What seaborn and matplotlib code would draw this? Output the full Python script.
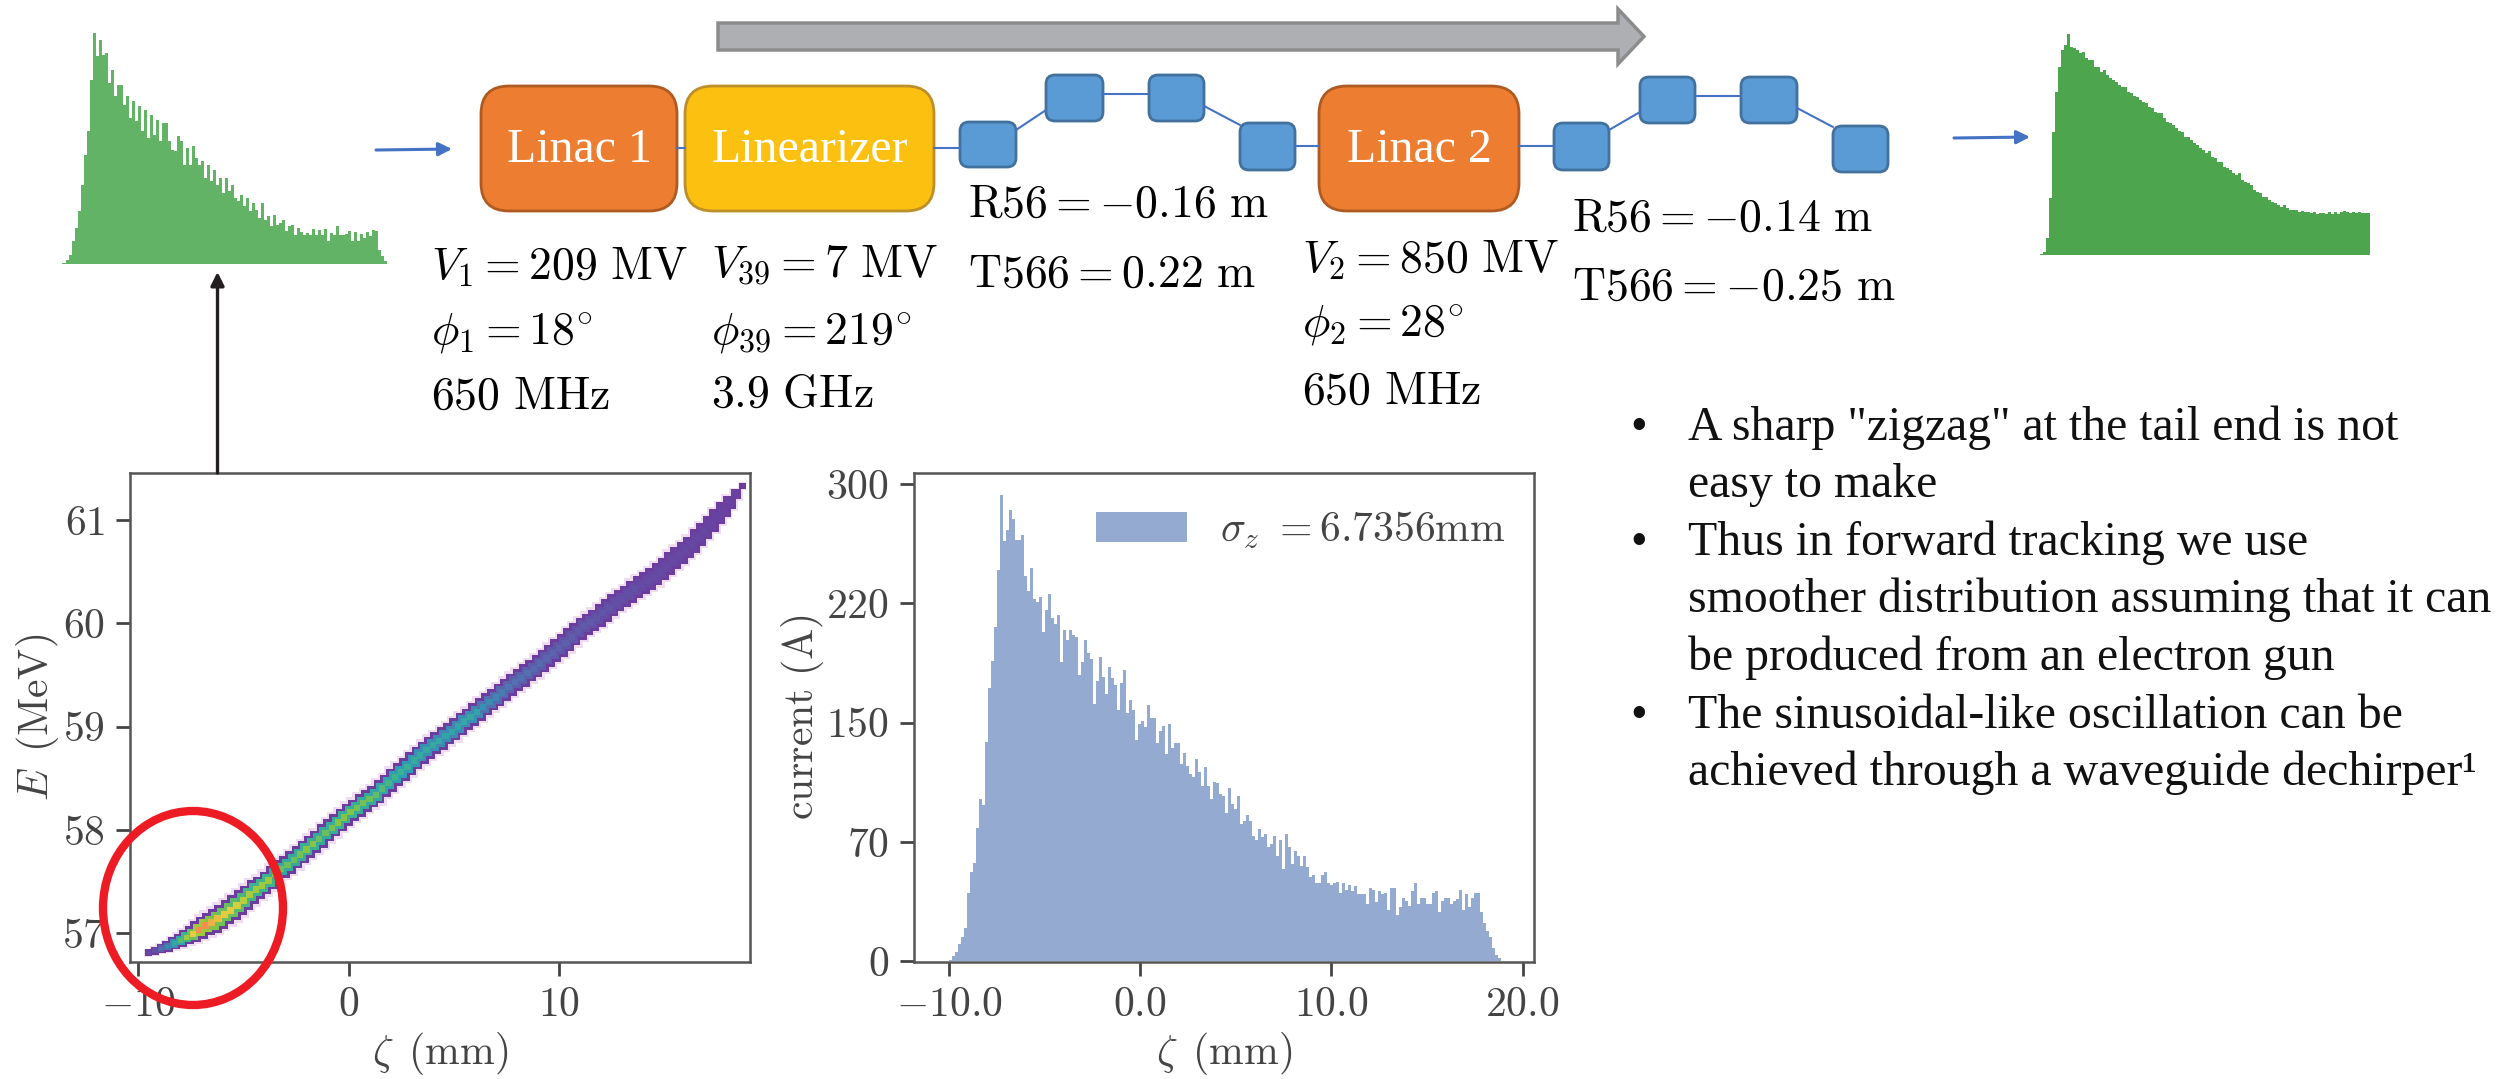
import numpy as np
import pandas as pd
import seaborn as sns
import matplotlib
matplotlib.use('Agg')
import matplotlib.pyplot as plt
import matplotlib.patches as mpatches
from matplotlib.colors import LinearSegmentedColormap

# current profile, one value per bin
current = [1,3,6,11,15,21,43,56,62,84,102,98,138,172,189,210,246,293,264,271,284,278,265,265,268,242,233,247,
           228,226,229,207,221,231,216,212,218,188,208,202,208,205,204,180,188,202,194,190,162,176,191,179,168,
           185,178,174,158,175,183,156,164,158,139,149,151,147,161,
           153,153,137,145,148,130,149,134,137,137,124,131,123,118,116,127,119,110,122,110,102,113,112,105,104,
           93,109,99,96,104,86,88,92,88,79,76,83,78,80,72,74,79,66,76,58,80,72,61,69,66,60,66,59,53,54,49,49,54,
           56,49,48,49,50,43,49,45,
           48,44,47,42,42,42,36,46,45,37,44,42,43,32,46,46,29,34,40,38,35,44,49,36,40,40,36,36,43,44,31,38,40,40,
           36,38,39,45,32,42,34,40,43,43,31,24,19,15,8,4,2,0]
zeta_start = -10.0
zeta_bin = 0.157

# beam ridge
ridge_zeta = [-9.5,-9.2,-8.9,-8.6,-8.3,-8.0,-7.7,-7.4,-7.1,-6.8,-6.5,-6.2,-5.9,-5.6,-5.3,-5.0,-4.7,-4.4,-4.1,-3.8,
              -3.5,-3.2,-2.9,-2.6,-2.3,-2.0,-1.7,-1.4,-1.1,-0.8,-0.5,-0.2,0.1,0.4,0.7,1.0,1.3,1.6,1.9,2.2,2.5,2.8,
              3.1,3.4,3.7,4.0,4.3,4.6,4.9,5.2,5.5,5.8,6.1,6.4,6.7,7.0,7.3,7.6,7.9,8.2,8.5,8.8,9.1,9.4,9.7,10.0,
              10.3,10.6,10.9,11.2,11.5,11.8,12.1,12.4,12.7,13.0,13.3,13.6,13.9,14.2,14.5,14.8,15.1,15.4,15.7,16.0,
              16.3,16.6,16.9,17.2,17.5,17.8,18.1,18.4,18.7]
ridge_energy = [56.81,56.83,56.85,56.87,56.90,56.93,56.96,56.99,57.03,57.07,57.10,57.14,57.18,57.22,57.27,57.32,
                57.37,57.42,57.46,57.51,57.57,57.62,57.66,57.71,57.76,57.81,57.86,57.91,57.97,58.02,58.07,58.12,
                58.17,58.21,58.26,58.30,58.34,58.40,58.45,58.51,58.56,58.61,58.67,58.72,58.77,58.82,58.86,58.91,
                58.95,59.00,59.05,59.09,59.14,59.19,59.24,59.28,59.33,59.38,59.43,59.47,59.52,59.56,59.61,59.66,
                59.71,59.76,59.81,59.87,59.92,59.97,60.01,60.05,60.10,60.15,60.20,60.24,60.28,60.33,60.37,60.41,
                60.45,60.50,60.55,60.61,60.66,60.71,60.76,60.83,60.89,60.96,61.03,61.10,61.17,61.25,61.33]
ridge_density = [.05,.1,.2,.3,.4,.55,.7,.85,1,1,.92,.88,.85,.85,.8,.75,.72,.7,.7,.7,.65,.6,.6,.6,.62,.65,.65,.6,.6,
                 .62,.65,.65,.65,.62,.62,.6,.58,.55,.52,.5,.48,.46,.44,.42,.42,.42,.4,.38,.38,.38,.4,.42,.38,.3,.28,
                 .26,.24,.22,.2,.2,.2,.18,.18,.16,.16,.15,.14,.14,.12,.12,.12,.1,.1,.1,.08,.08,.08,.08,.06,.06,.06,
                 .06,.05,.05,.05,.05,.04,.04,.04,.03,.03,.03,.02,.02,0]
ridge_spread = [.10,.12,.14,.16,.18,.20,.22,.24,.26,.28,.30,.30,.30,.30,.30,.29,.28,.28,.27,.27,
                .26,.26,.26,.26,.26,.26,.26,.26,.26,.26,.26,.26,.26,.26,.26,.26,.26,.26,.26,.26,
                .26,.26,.26,.26,.26,.26,.26,.26,.26,.26,.26,.26,.26,.26,.26,.26,.26,.26,.26,.26,
                .26,.26,.26,.26,.26,.26,.26,.26,.26,.26,.26,.26,.26,.26,.26,.26,.26,.26,.26,.26,
                .26,.26,.26,.26,.26,.25,.25,.25,.24,.24,.23,.22,.20,.16,.10]

# small profile before the linac (top left), one value per bin, pixels of height
profile_in = [1,4,9,23,36,53,79,109,133,184,231,208,224,209,211,181,194,168,179,179,159,168,146,163,143,158,133,154,
              126,149,129,144,123,141,141,123,114,113,128,123,99,116,99,118,106,99,103,86,99,83,94,79,86,71,86,73,79,
              66,63,69,58,66,53,61,54,46,61,44,48,38,49,39,41,44,33,38,39,29,36,32,29,31,29,35,29,34,29,35,23,31,29,
              38,29,29,30,33,23,32,23,30,26,32,28,34,33,14,8,3,0]
# small profile after the line (top right)
profile_out = [1,3,17,57,123,163,188,205,210,221,208,207,205,202,203,197,195,195,188,188,183,185,180,177,175,173,170,
               168,168,163,162,159,158,155,153,152,148,147,143,142,142,137,133,132,130,127,124,123,118,118,115,112,
               110,107,105,102,104,98,97,93,93,88,87,85,82,80,82,75,73,72,70,65,63,62,58,58,55,53,52,50,48,50,47,45,
               45,45,43,44,43,43,42,43,41,42,42,41,43,41,43,41,43,44,43,42,43,42,43,42,42,42]

bullets = ['A sharp "zigzag" at the tail end is not', 'easy to make',
           'Thus in forward tracking we use', 'smoother distribution assuming that it can',
           'be produced from an electron gun',
           'The sinusoidal-like oscillation can be', 'achieved through a waveguide dechirper\u00b9']

W, H = 2503, 1079
INK = '#444444'

sns.set_style('ticks')
plt.rcParams['mathtext.fontset'] = 'cm'
plt.rcParams['axes.edgecolor'] = '#555555'
plt.rcParams['axes.linewidth'] = 1.8
plt.rcParams['font.family'] = ['cmr10', 'DejaVu Sans']
plt.rcParams['axes.formatter.use_mathtext'] = True


def px_axes(fig, x0, y0, x1, y1):
    # axes from pixel box, y counted from the top of the picture
    return fig.add_axes([x0 / W, 1 - y1 / H, (x1 - x0) / W, (y1 - y0) / H])


def style_ticks(ax):
    ax.tick_params(length=10, width=2, color='#444444', labelcolor=INK, labelsize=30, pad=8)


def small_profile(fig, values, x0, base, color):
    n = len(values)
    ax = px_axes(fig, x0, base - 240, x0 + n * 3, base)
    sns.histplot(x=np.arange(n) + 0.5, weights=values, bins=n, binrange=(0, n), color=color, alpha=1,
                 linewidth=0, ax=ax)
    ax.set_xlim(0, n)
    ax.set_ylim(0, 240)
    ax.axis('off')


def box(ax, x0, y0, x1, y1, face, edge, r):
    ax.add_patch(mpatches.FancyBboxPatch((x0, y0), x1 - x0, y1 - y0, boxstyle=f'round,pad=0,rounding_size={r}',
                                         fc=face, ec=edge, lw=2))


fig = plt.figure(figsize=(W / 100, H / 100), dpi=100)

# left panel
ax1 = px_axes(fig, 130, 473, 750, 962)
df = pd.DataFrame({'zeta': ridge_zeta, 'E': ridge_energy, 'density': ridge_density, 'spread': ridge_spread})
band = LinearSegmentedColormap.from_list('band', ['#6a3d9e', '#5a66ae', '#2f9db6', '#3db58a', '#8cc63f', '#e4d33c',
                                                  '#f2904e'])
side = df['spread'] * 103.3 / 1.8 * 0.72
sns.scatterplot(data=df, x='zeta', y='E', marker='s', s=(side * 1.45) ** 2, color='#efdcf1', linewidth=0,
                legend=False, ax=ax1)
sns.scatterplot(data=df, x='zeta', y='E', marker='s', s=(side * 1.15) ** 2, color='#6a3d9e', linewidth=0,
                legend=False, ax=ax1)
sns.scatterplot(data=df.assign(level=df['density'] * 0.7), x='zeta', y='E', marker='s', s=(side * 0.8) ** 2,
                hue='level', hue_norm=(0, 1), palette=band, linewidth=0, legend=False, ax=ax1)
sns.scatterplot(data=df, x='zeta', y='E', marker='s', s=(side * 0.42) ** 2, hue='density', hue_norm=(0, 1),
                palette=band, linewidth=0, legend=False, ax=ax1)
ax1.set_xlim(-10.38, 19.07)
ax1.set_ylim(56.72, 61.455)
ax1.set_xticks([-10, 0, 10], [r'$-10$', r'$0$', r'$10$'])
ax1.set_yticks([57, 58, 59, 60, 61], [r'$57$', r'$58$', r'$59$', r'$60$', r'$61$'])
ax1.set_xlabel(r'$\zeta\ \,\mathrm{(mm)}$', fontsize=30, color=INK, labelpad=4)
ax1.set_ylabel(r'$E\ \,\mathrm{(MeV)}$', fontsize=30, color=INK, labelpad=1)
style_ticks(ax1)

# right panel
ax2 = px_axes(fig, 914, 473, 1534, 962)
zeta_centres = zeta_start + zeta_bin * (np.arange(len(current)) + 0.5)
sns.histplot(x=zeta_centres, weights=current, bins=len(current),
             binrange=(zeta_start, zeta_start + zeta_bin * len(current)), color='#94aad0', alpha=1, linewidth=0,
             label=r'$\sigma_z\ {=}\mathrm{6.7356mm}$', ax=ax2)
ax2.set_xlim(-11.83, 20.6)
ax2.set_ylim(-0.5, 307)
ax2.set_xticks([-10, 0, 10, 20], [r'$\mathrm{-10.0}$', r'$0.0$', r'$10.0$', r'$20.0$'])
ax2.set_yticks([0, 75, 150, 225, 300], [r'$0$', r'$70$', r'$150$', r'$220$', r'$300$'])
ax2.set_xlabel(r'$\zeta\ \,\mathrm{(mm)}$', fontsize=30, color=INK, labelpad=4)
ax2.set_ylabel(r'$\mathrm{current\ (A)}$', fontsize=30, color=INK, labelpad=0)
style_ticks(ax2)
ax2.legend(loc='center left', bbox_to_anchor=(0.294, 0.883), frameon=False, fontsize=30, borderpad=0,
           borderaxespad=0, handlelength=2.18, handleheight=0.75, handletextpad=0.8, labelcolor=INK)

small_profile(fig, profile_in, 62.5, 264, '#63b367')
small_profile(fig, profile_out, 2040, 255, '#4da64e')

# schematic on top, in picture pixels
ov = fig.add_axes([0, 0, 1, 1], zorder=5)
ov.set_xlim(0, W)
ov.set_ylim(H, 0)
ov.axis('off')
ov.patch.set_alpha(0)

ov.add_patch(mpatches.Polygon([(718, 23), (1618, 23), (1618, 9), (1644, 36.5), (1618, 64), (1618, 50), (718, 50)],
                              fc='#adafb2', ec='#8c8c8c', lw=2.5))

wire = '#4472c4'
for xs, ys in [((677, 685), (148, 148)), ((934, 960), (148, 148)), ((1016, 1046), (130, 110)),
               ((1102, 1148), (94, 94)), ((1204, 1240), (106, 125)), ((1295, 1319), (146, 146)),
               ((1519, 1554), (146, 146)), ((1609, 1640), (130, 112)), ((1695, 1741), (96, 96)),
               ((1797, 1833), (108, 127))]:
    ov.plot(xs, ys, color=wire, lw=1.5)

box(ov, 481, 86, 677, 211, '#ed7d31', '#ae5a21', 28)
box(ov, 685, 86, 934, 211, '#fcc010', '#bc8f2a', 28)
box(ov, 1319, 86, 1519, 211, '#ed7d31', '#ae5a21', 28)
for x0, y0, x1, y1 in [(960, 122, 1016, 167), (1046, 75, 1103, 121), (1149, 75, 1204, 121), (1240, 123, 1295, 170),
                       (1554, 123, 1609, 170), (1640, 77, 1695, 123), (1741, 77, 1797, 123), (1833, 126, 1888, 172)]:
    box(ov, x0, y0, x1, y1, '#5b9bd5', '#41719c', 9)

for label, x in [('Linac 1', 579), ('Linearizer', 810), ('Linac 2', 1419)]:
    ov.text(x, 150, label, color='white', ha='center', va='center', fontsize=34.5, family='Liberation Serif')

for x0, y0, x1, y1, c, lw in [(376, 150, 452, 149, wire, 2.2), (1954, 138, 2030, 137, wire, 2.2),
                              (217.5, 473, 217.5, 272, '#231f20', 2.4)]:
    ov.annotate('', xy=(x1, y1), xytext=(x0, y0),
                arrowprops=dict(arrowstyle='-|>,head_width=0.4,head_length=0.8', color=c, lw=lw,
                                shrinkA=0, shrinkB=0))

for x, y, s in [(431, 267, r'$V_1 = 209\ \mathrm{MV}$'), (431, 333, r'$\phi_1 = 18^{\circ}$'),
                (431, 397, r'$650\ \mathrm{MHz}$'),
                (711, 265, r'$V_{39} = 7\ \mathrm{MV}$'), (711, 333, r'$\phi_{39} = 219^{\circ}$'),
                (711, 395, r'$3.9\ \mathrm{GHz}$'),
                (968, 205, r'$\mathrm{R56} = -0.16\ \mathrm{m}$'), (968, 275, r'$\mathrm{T566} = 0.22\ \mathrm{m}$'),
                (1302, 260, r'$V_2 = 850\ \mathrm{MV}$'), (1302, 325, r'$\phi_2 = 28^{\circ}$'),
                (1302, 392, r'$650\ \mathrm{MHz}$'),
                (1572, 219, r'$\mathrm{R56} = -0.14\ \mathrm{m}$'), (1572, 288, r'$\mathrm{T566} = -0.25\ \mathrm{m}$')]:
    ov.text(x, y, s, fontsize=33, color='black', ha='left', va='center')

line_y = [440, 497, 555, 612.5, 670, 728, 785]
marks = [True, False, True, False, False, True, False]
for s, y, m in zip(bullets, line_y, marks):
    ov.text(1688, y, s, fontsize=34.4, color='#111111', ha='left', va='baseline', family='Liberation Serif')
    if m:
        ov.text(1630, y, '\u2022', fontsize=34.4, color='#111111', ha='left', va='baseline', family='Liberation Serif')

ov.add_patch(mpatches.Ellipse((193, 908), 180, 194, fc='none', ec='#ed1c24', lw=6))

fig.savefig('out.png', dpi=100)
